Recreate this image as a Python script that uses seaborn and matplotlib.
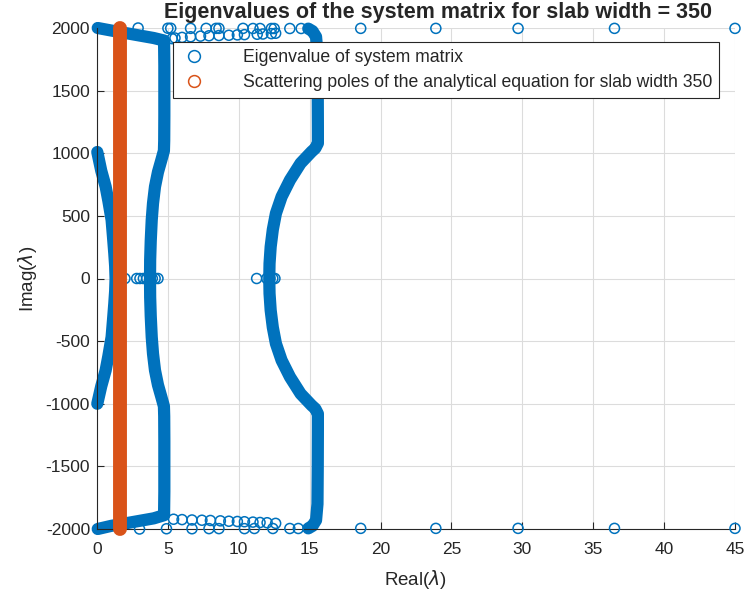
import matplotlib
matplotlib.use("Agg")
import matplotlib.pyplot as plt
import seaborn as sns
from matplotlib.lines import Line2D

sns.set_style("white")
plt.rcParams['font.family'] = ['Liberation Sans', 'DejaVu Sans']
plt.rcParams['mathtext.fontset'] = 'dejavusans'
plt.rcParams['axes.unicode_minus'] = False

BLUE = '#0072BD'
ORANGE = '#D95319'

# ---- dense eigenvalue branches (real, imag) ----
left_re = [0.02, 0.30, 0.61, 0.80, 0.92, 1.03, 1.13, 1.22, 1.28, 1.31,
           1.28, 1.22, 1.13, 1.03, 0.92, 0.80, 0.61, 0.30, 0.02]
left_im = [1010, 860, 733, 620, 540, 467, 330, 200, 100, 0,
           -100, -200, -330, -467, -540, -620, -733, -860, -1000]

mid_re = [0.05, 1.0, 2.0, 3.0, 4.0, 4.73, 4.75, 4.75, 4.75, 4.74, 4.72, 4.55, 4.30, 4.09,
          3.95, 3.86, 3.79, 3.75, 3.74, 3.75, 3.79, 3.86, 3.95, 4.09, 4.30, 4.55, 4.72,
          4.74, 4.75, 4.75, 4.75, 4.73, 4.0, 3.0, 2.0, 1.0, 0.05]
mid_im = [2000, 1980, 1960, 1940, 1920, 1900, 1700, 1500, 1300, 1100, 1020, 950, 850, 733,
          600, 467, 300, 150, 0, -150, -300, -467, -600, -733, -850, -950, -1020,
          -1100, -1300, -1500, -1700, -1890, -1915, -1935, -1955, -1975, -2000]

right_re = [14.90, 15.20, 15.45, 15.55, 15.57, 15.58, 15.58, 15.40, 15.13, 14.36, 13.61,
            13.02, 12.62, 12.40, 12.25, 12.17, 12.15, 12.17, 12.25, 12.40, 12.62, 13.02,
            13.61, 14.36, 15.13, 15.40, 15.58, 15.58, 15.57, 15.55, 15.45, 15.20, 14.90]
right_im = [1995, 1975, 1930, 1800, 1500, 1200, 1080, 1040, 1012, 920, 786,
            653, 520, 390, 254, 120, 0, -120, -254, -390, -520, -653,
            -786, -920, -1012, -1040, -1080, -1200, -1500, -1800, -1930, -1975, -1995]

# ---- isolated eigenvalues (real, imag) ----
iso_re = [2.9, 5.0, 5.2, 6.6, 7.7, 8.4, 8.6, 10.3, 11.0, 11.5, 12.3, 12.5, 13.6, 14.4,
          18.6, 23.9, 29.7, 36.5, 45.0,
          5.3, 5.5, 6.0, 6.6, 7.3, 7.9, 8.6, 9.3, 9.9, 10.4, 11.3, 11.7, 12.3, 12.6,
          1.97, 2.80, 3.03, 3.27, 3.50, 3.90, 4.10, 4.30, 11.26, 11.97, 12.20, 12.40, 12.55,
          5.4, 6.0, 6.7, 7.4, 8.0, 8.7, 9.3, 9.9, 10.4, 11.0, 11.5, 12.0, 12.6,
          3.0, 4.9, 6.7, 7.9, 8.6, 10.4, 11.1, 12.4, 13.6, 14.2,
          18.6, 23.9, 29.7, 36.5, 45.0]
iso_im = [2000, 1998, 1998, 1997, 1997, 1997, 1997, 1997, 1996, 1996, 1996, 1996, 1996, 1996,
          1997, 1997, 1997, 1997, 1997,
          1915, 1920, 1925, 1930, 1935, 1938, 1940, 1942, 1945, 1947, 1950, 1952, 1955, 1958,
          0, 0, 0, 0, 0, 0, 0, 0, 0, 0, 0, 0, 0,
          -1922, -1925, -1928, -1930, -1932, -1935, -1938, -1940, -1942, -1945, -1948, -1950, -1955,
          -2000, -1998, -1998, -1997, -1997, -1997, -1996, -1996, -1996, -1996,
          -1995, -1995, -1995, -1995, -1995]

# ---- scattering poles (real, imag) ----
pole_re = [1.60, 1.60, 1.60, 1.60, 1.60, 1.60, 1.60, 1.60, 1.60]
pole_im = [2000, 1500, 1000, 500, 0, -500, -1000, -1500, -2000]

fig = plt.figure(figsize=(7.46, 5.98), dpi=100)
ax = fig.add_axes([97/746, 1-529/598, (735-97)/746, (529-28)/598])

band_kw = dict(sort=False, estimator=None, color=BLUE, linewidth=8.8,
               solid_capstyle='round', solid_joinstyle='round', clip_on=False, ax=ax)
sns.lineplot(x=left_re, y=left_im, **band_kw)
sns.lineplot(x=mid_re, y=mid_im, **band_kw)
sns.lineplot(x=right_re, y=right_im, **band_kw)

sns.scatterplot(x=iso_re, y=iso_im, marker='o', s=52, facecolors='none',
                edgecolors=BLUE, linewidth=1.1, clip_on=False, ax=ax, zorder=3)

sns.lineplot(x=pole_re, y=pole_im, sort=False, estimator=None, color=ORANGE,
             linewidth=10, solid_capstyle='round', clip_on=False, ax=ax, zorder=4)

ax.set_xlim(0, 45)
ax.set_ylim(-2000, 2000)
ax.set_xticks(range(0, 46, 5))
ax.set_yticks(range(-2000, 2001, 500))
ax.grid(True, color='#dcdcdc', linewidth=0.8)
ax.set_axisbelow(True)
for s in ['top', 'right']:
    ax.spines[s].set_visible(False)
for s in ['left', 'bottom']:
    ax.spines[s].set_color('#262626')
    ax.spines[s].set_linewidth(0.8)
ax.tick_params(direction='in', length=5, width=0.8, colors='#262626',
               labelsize=12.5, left=True, bottom=True)
ax.tick_params(axis='x', pad=9)
ax.tick_params(axis='y', pad=5)

ax.set_xlabel(r'Real($\lambda$)', fontsize=13.5, color='#262626', labelpad=8)
ax.set_ylabel(r'Imag($\lambda$)', fontsize=13.5, color='#262626', labelpad=5)
ax.set_title('Eigenvalues of the system matrix for slab width = 350',
             fontsize=15.5, fontweight='bold', x=0.534, pad=7.5)

handles = [Line2D([], [], linestyle='none', marker='o', markersize=8.5,
                  markerfacecolor='none', markeredgecolor=BLUE, markeredgewidth=1.1),
           Line2D([], [], linestyle='none', marker='o', markersize=8.5,
                  markerfacecolor='none', markeredgecolor=ORANGE, markeredgewidth=1.1)]
leg = ax.legend(handles, ['Eigenvalue of system matrix',
                          'Scattering poles of the analytical equation for slab width 350'],
                loc='upper right', bbox_to_anchor=(0.975, 0.972), fontsize=12.7,
                frameon=True, fancybox=False, framealpha=1, edgecolor='#262626',
                borderpad=0.4, handletextpad=1.93, handlelength=1.6, labelspacing=0.45,
                borderaxespad=0)
leg.get_frame().set_linewidth(0.8)

fig.savefig('out.png', dpi=100)
